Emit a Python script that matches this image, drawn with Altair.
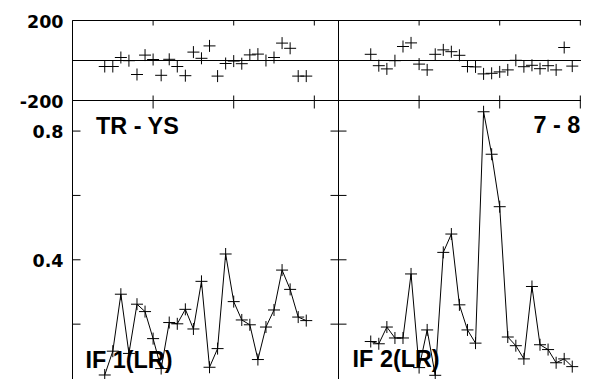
import altair as alt
import pandas as pd

# ---- data ----
steps = list(range(4, 30))  # 26 observations, x = 4 .. 29

res_lr1 = [-30, -30, 15, -1, -70, 27, 5, -74, 6, -30, -76, 42, 11, 73, -78,
           -15, -3, -16, 28, 32, 0, 15, 87, 61, -78, -78]
res_lr2 = [31, -26, -42, -1, 70, 88, -18, -47, 31, 53, 44, 26, -30, -32, -67,
           -64, -57, -47, 1, -31, -24, -41, -26, -47, 65, -28]

if_lr1 = [0.042, 0.116, 0.293, 0.109, 0.262, 0.239, 0.155, 0.062, 0.205, 0.201,
          0.246, 0.185, 0.333, 0.066, 0.124, 0.418, 0.27, 0.213, 0.198, 0.09,
          0.191, 0.244, 0.368, 0.308, 0.222, 0.211]
if_lr2 = [0.146, 0.139, 0.191, 0.157, 0.157, 0.356, 0.065, 0.182, 0.041, 0.423,
          0.48, 0.26, 0.182, 0.141, 0.86, 0.728, 0.565, 0.16, 0.133, 0.092,
          0.317, 0.136, 0.121, 0.08, 0.092, 0.068]

x_ticks = [10, 20, 30]
res_ticks = [-200, 0, 200]
res_labels = [-200, 200]
if_ticks = [0.0, 0.2, 0.4, 0.6, 0.8]
if_labels = [0.0, 0.4, 0.8]

panel_labels = ["TR - YS", "7 - 8", "IF 1(LR)", "IF 2(LR)"]
panel_label_col = [0, 1, 0, 1]
panel_label_x = [2.92, 30.0, 1.6, 1.75]
panel_label_y = [0.791, 0.793, 0.064, 0.067]
panel_label_align = ["left", "right", "left", "left"]

# ---- layout / style ----
PANEL_W = 266
TOP_H = 80
BOT_H = 288
X_DOM = [0, 33]
RES_DOM = [-200, 200]
IF_DOM = [0, 0.895]
CROSS = "M -1 0 L 1 0 M 0 -1 L 0 1"
PX_PER_X = PANEL_W / (X_DOM[1] - X_DOM[0])


def xscale(col):
    return alt.Scale(domain=X_DOM, range=[col * PANEL_W, (col + 1) * PANEL_W],
                     nice=False, zero=False)


def yscale(row):
    if row == 0:
        return alt.Scale(domain=RES_DOM, range=[TOP_H, 0], nice=False, zero=False)
    return alt.Scale(domain=IF_DOM, range=[TOP_H + BOT_H, TOP_H], nice=False, zero=False)


def label_axis(values, expr):
    return alt.Axis(values=values, labelExpr=expr, orient="left", ticks=False,
                    domain=False, grid=False, labelFont="DejaVu Sans",
                    labelFontWeight="bold", labelFontSize=17.5, labelColor="black",
                    labelPadding=9.5, labelOffset=1.5, title=None)


def frame_and_ticks(ydom, yticks, tick_px, px_per_y):
    lo, hi = ydom
    x0, x1 = X_DOM
    xl = tick_px / PX_PER_X
    yl = tick_px / px_per_y
    rows = [
        (x0, x0, lo, hi), (x1, x1, lo, hi), (x0, x1, hi, hi), (x0, x1, lo, lo),
    ]
    for t in yticks:
        rows.append((x0, x0 + xl, t, t))
        rows.append((x1 - xl, x1, t, t))
    for t in x_ticks:
        rows.append((t, t, hi, hi - yl))
        rows.append((t, t, lo, lo + yl))
    return pd.DataFrame(rows, columns=["x", "x2", "y", "y2"])


def segments(df, xs, ys, yaxis):
    return alt.Chart(df).mark_rule(color="black", strokeWidth=1).encode(
        x=alt.X("x:Q", scale=xs, axis=None), x2="x2:Q",
        y=alt.Y("y:Q", scale=ys, axis=yaxis), y2="y2:Q")


def res_panel(col, values):
    xs, ys = xscale(col), yscale(0)
    yaxis = label_axis(res_labels,
                       "datum.value < 0 ? '-' + format(-datum.value, 'd') : format(datum.value, 'd')"
                       ) if col == 0 else None
    df = pd.DataFrame({"x": steps, "y": values})
    zero = alt.Chart(pd.DataFrame({"y": [0]})).mark_rule(color="black", strokeWidth=1).encode(
        y=alt.Y("y:Q", scale=ys, axis=yaxis))
    pts = alt.Chart(df).mark_point(shape=CROSS, size=144, filled=False, color="black",
                                   strokeWidth=1, opacity=1).encode(
        x=alt.X("x:Q", scale=xs, axis=None), y=alt.Y("y:Q", scale=ys, axis=yaxis))
    fr = segments(frame_and_ticks(RES_DOM, res_ticks, 5, TOP_H / (RES_DOM[1] - RES_DOM[0])),
                  xs, ys, yaxis)
    return alt.layer(fr, zero, pts).resolve_scale(x="shared", y="shared")


def if_panel(col, values):
    xs, ys = xscale(col), yscale(1)
    yaxis = label_axis(if_labels, "format(datum.value, '.1f')") if col == 0 else None
    df = pd.DataFrame({"x": steps, "y": values})
    enc = dict(x=alt.X("x:Q", scale=xs, axis=None), y=alt.Y("y:Q", scale=ys, axis=yaxis))
    line = alt.Chart(df).mark_line(color="black", strokeWidth=1).encode(**enc)
    pts = alt.Chart(df).mark_point(shape=CROSS, size=144, filled=False, color="black",
                                   strokeWidth=1, opacity=1).encode(**enc)
    fr = segments(frame_and_ticks(IF_DOM, if_ticks, 8, BOT_H / (IF_DOM[1] - IF_DOM[0])),
                  xs, ys, yaxis)
    layers = [fr, line, pts]
    for t, c, lx, ly, al in zip(panel_labels, panel_label_col, panel_label_x,
                                panel_label_y, panel_label_align):
        if c != col:
            continue
        tdf = pd.DataFrame({"x": [lx], "y": [ly], "t": [t]})
        layers.append(alt.Chart(tdf).mark_text(
            align=al, baseline="alphabetic", font="Liberation Sans", fontWeight="bold",
            fontSize=23.4, color="black").encode(
            x=alt.X("x:Q", scale=xs, axis=None),
            y=alt.Y("y:Q", scale=ys, axis=yaxis),
            text="t:N"))
    return alt.layer(*layers).resolve_scale(x="shared", y="shared")


chart = alt.layer(
    res_panel(0, res_lr1), res_panel(1, res_lr2),
    if_panel(0, if_lr1), if_panel(1, if_lr2),
).resolve_scale(
    x="independent", y="independent",
).properties(
    width=508.5, height=358.5,
    autosize=alt.AutoSizeParams(type="none"),
    padding={"left": 64.5, "top": 12.5, "right": 0, "bottom": 0},
).configure_view(
    strokeWidth=0,
)

chart.save("out.html", embed_options={"renderer": "svg", "actions": False})
